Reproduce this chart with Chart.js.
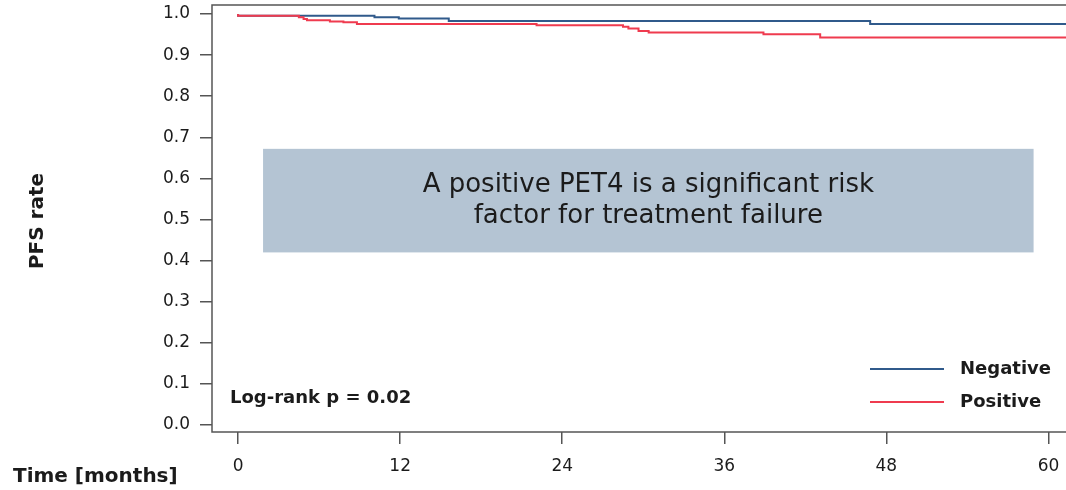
<!DOCTYPE html>
<html>
<head>
<meta charset="utf-8">
<script src="https://cdn.jsdelivr.net/npm/chart.js@4.4.1/dist/chart.umd.min.js"></script>
<style>
    html, body { margin: 0; padding: 0; background: #fff; }
    #wrap { width: 1066px; height: 490px; position: relative; }
</style>
</head>
<body>
<div id="wrap"><canvas id="kmChart"></canvas></div>
<script>
// tick labels
const xTicks = [0, 12, 24, 36, 48, 60];
const yTicks = [0, 0.1, 0.2, 0.3, 0.4, 0.5, 0.6, 0.7, 0.8, 0.9, 1.0];

// Kaplan-Meier steps (months, PFS rate)
const negTimes = [0, 10.1, 11.9, 15.6, 46.8, 48.6, 62];
const negSurv  = [1.0, 0.996, 0.992, 0.989, 0.983, 0.976, 0.976];

const posTimes = [0, 4.5, 4.85, 5.1, 6.8, 7.8, 8.8, 22.1, 28.5, 28.9, 29.65, 30.4, 38.9, 43.1, 52.2, 62];
const posSurv  = [1.0, 0.996, 0.992, 0.988, 0.985, 0.982, 0.980, 0.976, 0.973, 0.969, 0.965, 0.959, 0.955, 0.951, 0.943, 0.943];

const groups = ['Negative', 'Positive'];
const groupColors = ['#305a8b', '#ef3b4f'];

const noteLines = ['A positive PET4 is a significant risk', 'factor for treatment failure'];
const pValueText = 'Log-rank p = 0.02';

const FONT = "'DejaVu Sans', sans-serif";
const INK = '#1b1b1b';

function toPoints(times, surv) {
    return times.map((t, i) => ({ x: t, y: surv[i] }));
}

const decor = {
    id: 'decor',
    beforeDatasetsDraw(chart) {
        const { ctx, scales: { x, y } } = chart;
        ctx.save();

        // shaded note box
        const bx0 = x.getPixelForValue(1.85), bx1 = x.getPixelForValue(58.9);
        const by0 = y.getPixelForValue(0.672), by1 = y.getPixelForValue(0.42);
        ctx.fillStyle = '#b4c4d3';
        ctx.fillRect(bx0, by0, bx1 - bx0, by1 - by0);

        ctx.fillStyle = INK;
        ctx.font = '26px ' + FONT;
        ctx.textAlign = 'center';
        ctx.textBaseline = 'middle';
        const cx = (bx0 + bx1) / 2;
        ctx.fillText(noteLines[0], cx, by0 + 36);
        ctx.fillText(noteLines[1], cx, by0 + 67);
        ctx.restore();
    },
    afterDraw(chart) {
        const { ctx, chartArea: a } = chart;
        ctx.save();

        // frame (right side runs off the canvas)
        ctx.strokeStyle = '#555';
        ctx.lineWidth = 1.5;
        ctx.beginPath();
        ctx.moveTo(a.right + 10, a.top);
        ctx.lineTo(a.left, a.top);
        ctx.lineTo(a.left, a.bottom);
        ctx.lineTo(a.right + 10, a.bottom);
        ctx.stroke();

        // axis titles
        ctx.fillStyle = INK;
        ctx.font = 'bold 20px ' + FONT;
        ctx.textAlign = 'left';
        ctx.textBaseline = 'middle';
        ctx.fillText('Time [months]', 13, 477);

        ctx.save();
        ctx.translate(38, 221);
        ctx.rotate(-Math.PI / 2);
        ctx.textAlign = 'center';
        ctx.fillText('PFS rate', 0, 0);
        ctx.restore();

        // log-rank
        ctx.font = 'bold 18px ' + FONT;
        ctx.fillText(pValueText, 230, 398);

        // legend
        const rows = [369, 402];
        groups.forEach((g, i) => {
            ctx.strokeStyle = groupColors[i];
            ctx.lineWidth = 2;
            ctx.beginPath();
            ctx.moveTo(870, rows[i]);
            ctx.lineTo(944, rows[i]);
            ctx.stroke();
            ctx.fillStyle = INK;
            ctx.font = 'bold 18px ' + FONT;
            ctx.fillText(g, 960, rows[i]);
        });

        ctx.restore();
    }
};

new Chart(document.getElementById('kmChart'), {
    type: 'line',
    data: {
        datasets: [
            {
                label: groups[0],
                data: toPoints(negTimes, negSurv),
                borderColor: groupColors[0],
                borderWidth: 2,
                stepped: 'after',
                pointRadius: 0,
                fill: false,
                order: 1
            },
            {
                label: groups[1],
                data: toPoints(posTimes, posSurv),
                borderColor: groupColors[1],
                borderWidth: 2,
                stepped: 'after',
                pointRadius: 0,
                fill: false,
                order: 0
            }
        ]
    },
    options: {
        responsive: true,
        maintainAspectRatio: false,
        animation: false,
        layout: { padding: { top: 5, right: 0, left: 0, bottom: 0 } },
        plugins: {
            legend: { display: false },
            tooltip: { enabled: false }
        },
        scales: {
            x: {
                type: 'linear',
                min: -1.93,
                max: 61.3,
                afterBuildTicks: s => { s.ticks = xTicks.map(v => ({ value: v })); },
                afterFit: s => { s.height = 58; s.paddingLeft = 0; s.paddingRight = 0; },
                border: { display: false },
                grid: {
                    drawOnChartArea: false,
                    drawTicks: true,
                    tickLength: 12,
                    color: '#555',
                    lineWidth: 1.5
                },
                ticks: {
                    autoSkip: false,
                    maxRotation: 0,
                    padding: 12,
                    color: INK,
                    font: { family: FONT, size: 17 }
                }
            },
            y: {
                type: 'linear',
                min: -0.017,
                max: 1.022,
                afterBuildTicks: s => { s.ticks = yTicks.map(v => ({ value: v })); },
                afterFit: s => { s.width = 212; s.paddingTop = 0; s.paddingBottom = 0; },
                border: { display: false },
                grid: {
                    drawOnChartArea: false,
                    drawTicks: true,
                    tickLength: 12,
                    color: '#555',
                    lineWidth: 1.5
                },
                ticks: {
                    padding: 10,
                    color: INK,
                    font: { family: FONT, size: 17 },
                    callback: v => v.toFixed(1)
                }
            }
        }
    },
    plugins: [decor]
});
</script>
</body>
</html>
